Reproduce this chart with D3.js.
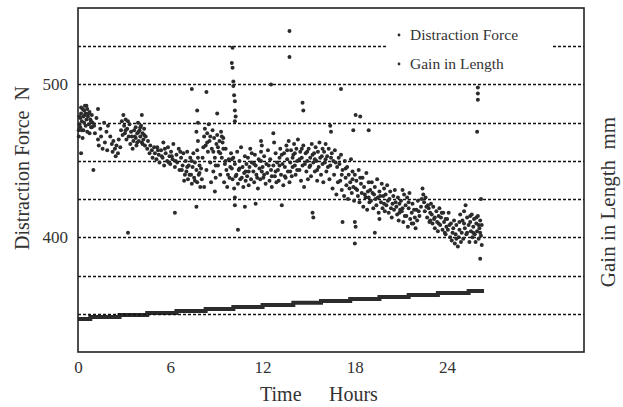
<!DOCTYPE html>
<html>
<head>
<meta charset="utf-8">
<script src="https://cdn.jsdelivr.net/npm/d3@7"></script>
<style>
  body { margin: 0; background: #fff; }
  text { font-family: "Liberation Serif", "Times New Roman", serif; fill: #333; }
</style>
</head>
<body>
<div id="chart"></div>
<script>
// distraction force readings [hours, N]
var forceEarly = [
  [0.05,470],[0.05,466],[0.1,474],[0.15,478],[0.2,481],[0.25,476],[0.3,484],[0.35,479],[0.4,483],[0.45,486],
  [0.5,481],[0.55,477],[0.6,484],[0.65,479],[0.7,474],[0.75,482],[0.8,477],[0.85,472],[0.9,480],[0.95,475],
  [0.15,472],[0.35,470],[0.6,469],[0.85,476],[0.3,465],
  [1.05,473],[1.1,468],[1.2,478],[1.3,464],[1.35,460],[1.45,471],[1.5,466],[1.6,458],[1.7,475],[1.75,462],
  [1.85,469],[1.9,457],[1.95,473],
  [2.1,466],[2.2,461],[2.25,456],[2.3,463],[2.4,458],[2.45,453],[2.5,460],[2.6,455],[2.65,464],[2.75,459],
  [2.8,470],[2.85,476],[2.9,467],[2.95,480],
  [3.0,473],[3.05,468],[3.1,477],[3.15,464],[3.2,471],[3.3,466],[3.35,474],[3.4,461],[3.45,469],[3.55,458],
  [3.6,463],[3.7,466],[3.75,472],[3.8,460],[3.85,468],[3.9,475],[3.95,463],
  [4.0,470],[4.05,466],[4.1,473],[4.15,462],[4.2,468],[4.25,464],[4.3,471],[4.35,460],[4.4,466],[4.5,458],
  [4.55,463],[4.65,455],[4.7,460],[4.8,457],[4.85,452],[4.95,459],
  [5.0,455],[5.1,451],[5.15,459],[5.25,454],[5.3,449],[5.4,457],[5.5,452],[5.55,462],[5.6,447],[5.7,455],
  [5.8,450],[5.85,459],[5.95,453],
  [6.0,448],[6.05,456],[6.15,451],[6.2,461],[6.3,446],[6.4,454],[6.45,449],[6.55,458],[6.6,444],[6.7,452],
  [6.8,447],[6.85,455],[6.95,441],[6.9,437],
  [7.0,450],[7.05,443],[7.1,456],[7.15,438],[7.2,447],[7.3,452],[7.35,441],[7.4,435],[7.45,446],[7.5,455],
  [7.55,439],[7.6,449],[7.7,444],[7.75,436],[7.8,452],[7.85,441],[7.9,447],[7.95,433],
  [7.75,483],[7.8,475],[7.7,469],[7.8,463],[7.75,457],
  [8.0,445],[8.05,438],[8.1,452],[8.2,466],[8.25,471],[8.3,460],[8.35,444],[8.4,468],[8.45,456],[8.5,474],
  [8.55,463],[8.6,449],[8.65,436],[8.7,458],[8.75,470],[8.8,443],[8.85,465],[8.9,452],[8.95,439]
];

var forceMid = [
  [9.0,461],[9.05,467],[9.1,447],[9.15,456],[9.2,463],[9.25,441],[9.3,469],[9.35,452],[9.4,462],[9.45,465],
  [9.5,436],[9.55,448],[9.6,458],[9.65,444],[9.7,433],[9.8,451],[9.85,439],[9.9,446],[9.95,455],
  [10.0,445],[10.05,438],[10.1,452],[10.15,432],[10.2,448],[10.3,441],[10.35,456],[10.4,435],[10.45,444],
  [10.5,450],[10.55,438],[10.6,459],[10.7,446],[10.75,433],[10.8,442],[10.85,453],[10.9,437],[10.95,448],
  [11.0,440],[11.05,452],[11.1,434],[11.15,446],[11.2,458],[11.25,438],[11.3,449],[11.4,443],[11.45,436],
  [11.5,454],[11.55,447],[11.6,441],[11.7,432],[11.75,451],[11.8,445],[11.85,438],[11.9,456],[11.95,443],
  [11.9,463],[11.95,460],
  [12.0,446],[12.05,439],[12.1,453],[12.2,435],[12.25,448],[12.3,442],[12.35,457],[12.45,437],[12.5,451],
  [12.55,444],[12.6,433],[12.7,447],[12.7,468],[12.75,462],[12.8,440],[12.85,455],[12.9,436],[12.95,449],
  [13.0,444],[13.05,437],[13.1,452],[13.15,458],[13.2,441],[13.3,448],[13.35,434],[13.4,455],[13.45,446],
  [13.5,439],[13.55,460],[13.6,451],[13.65,443],[13.7,463],[13.75,436],[13.8,449],[13.85,457],[13.9,440],[13.95,446],
  [14.0,454],[14.05,461],[14.1,447],[14.15,441],[14.2,458],[14.25,450],[14.3,464],[14.4,444],[14.45,456],
  [14.5,437],[14.55,452],[14.6,447],[14.65,460],[14.7,433],[14.8,455],[14.85,443],[14.9,450],[14.95,438],
  [15.0,458],[15.05,446],[15.1,452],[15.15,440],[15.2,461],[15.3,449],[15.35,455],[15.4,443],[15.45,459],
  [15.5,450],[15.55,437],[15.6,456],[15.65,446],[15.7,462],[15.8,441],[15.85,453],[15.9,448],[15.95,436],
  [16.0,456],[16.05,449],[16.1,461],[16.15,443],[16.2,453],[16.3,458],[16.35,438],[16.4,447],[16.5,455],
  [16.55,432],[16.6,450],[16.65,441],[16.7,457],[16.8,428],[16.85,446],[16.9,436],[16.95,452],
  [17.0,448],[17.05,437],[17.1,454],[17.15,431],[17.2,444],[17.3,427],[17.35,450],[17.4,439],[17.45,434],
  [17.5,446],[17.55,425],[17.6,441],[17.7,436],[17.75,451],[17.8,429],[17.85,443],[17.9,433],[17.95,424]
];

var forceLate = [
  [18.0,441],[18.05,432],[18.1,437],[18.2,427],[18.25,444],[18.3,423],[18.4,435],[18.45,429],[18.5,439],
  [18.55,420],[18.6,433],[18.7,426],[18.75,442],[18.8,418],[18.85,430],[18.9,436],[18.95,423],
  [19.0,431],[19.05,424],[19.1,436],[19.2,419],[19.25,428],[19.3,433],[19.4,421],[19.45,438],[19.5,426],
  [19.55,416],[19.6,430],[19.7,423],[19.75,435],[19.8,419],[19.85,427],[19.9,432],[19.95,417],
  [20.0,428],[20.05,421],[20.1,434],[20.2,416],[20.25,425],[20.3,430],[20.4,413],[20.45,422],[20.5,427],
  [20.55,418],[20.6,431],[20.7,420],[20.75,415],[20.8,426],[20.85,411],[20.9,422],[20.95,418],
  [21.0,424],[21.05,417],[21.1,431],[21.15,410],[21.2,428],[21.3,421],[21.35,414],[21.4,426],[21.45,407],
  [21.5,419],[21.55,429],[21.6,412],[21.7,416],[21.75,422],[21.8,409],[21.85,418],[21.9,413],[21.95,406],
  [22.0,418],[22.05,411],[22.1,424],[22.2,414],[22.3,420],[22.4,432],[22.45,428],[22.5,423],[22.55,417],
  [22.6,426],[22.7,413],[22.75,421],[22.8,419],[22.85,410],[22.9,416],[22.95,422],
  [23.0,415],[23.05,409],[23.1,420],[23.15,412],[23.2,406],[23.3,417],[23.35,410],[23.4,404],[23.45,414],
  [23.5,419],[23.55,408],[23.6,413],[23.7,405],[23.75,416],[23.8,410],[23.85,403],[23.9,412],[23.95,407],
  [24.0,412],[24.05,405],[24.1,416],[24.2,400],[24.25,409],[24.3,398],[24.4,406],[24.45,411],[24.5,396],
  [24.55,402],[24.6,408],[24.7,394],[24.75,400],[24.8,405],[24.85,415],[24.9,397],[24.95,403],
  [25.0,411],[25.05,399],[25.1,417],[25.15,406],[25.2,421],[25.25,402],[25.3,413],[25.4,408],[25.45,397],
  [25.5,410],[25.55,404],[25.6,415],[25.65,400],[25.7,407],[25.75,412],[25.8,402],[25.85,397],[25.9,409],
  [25.95,404],[26.0,414],[26.05,399],[26.1,406],[26.15,411],[26.2,401],[26.25,395]
];

// extra readings inside the darkest clusters
var forceDense = [
  [0.1,479],[0.2,485],[0.25,470],[0.4,475],[0.45,480],[0.5,473],[0.55,486],[0.7,481],[0.75,468],[0.9,472],
  [3.1,470],[3.25,476],[3.5,466],[3.65,470],[3.75,465],[3.85,462],[3.95,469],[4.05,472],[4.2,461],[4.3,467],
  [5.2,457],[5.45,453],[5.65,458],[5.9,449],[6.1,453],[6.35,450],[6.65,456],[6.75,444],
  [7.1,446],[7.25,441],[7.4,450],[7.6,437],[7.9,442],[8.15,459],[8.4,462],[8.6,466],[8.8,456],[8.95,447],
  [9.1,459],[9.25,455],[9.35,466],[9.45,458],[9.6,450],[9.75,441],[10.0,451],[10.25,440],[10.5,445],
  [10.65,439],[10.9,443],
  [11.1,443],[11.3,455],[11.45,448],[11.65,439],[11.9,450],[12.1,441],[12.4,447],[12.6,440],[12.85,443],
  [13.1,447],[13.25,454],[13.45,440],[13.6,457],[13.8,443],[13.95,452],[14.1,455],[14.25,444],[14.4,451],
  [14.55,458],[14.75,448],[14.9,456],[15.1,447],[15.25,454],[15.4,451],[15.55,444],[15.75,452],[15.9,458],
  [16.1,451],[16.25,446],[16.45,452],[16.75,449],
  [17.15,441],[17.4,445],[17.65,432],[17.85,438],[18.15,431],[18.35,439],[18.65,428],[18.9,426],
  [19.15,429],[19.35,425],[19.65,427],[19.9,422],
  [20.15,424],[20.35,419],[20.65,423],[20.9,416],[21.1,419],[21.25,414],[21.5,423],[21.7,409],
  [22.15,417],[22.35,425],[22.65,420],[22.9,411],[23.2,413],[23.45,409],[23.65,416],[23.9,402],
  [24.15,408],[24.35,403],[24.6,399],[24.8,410],[25.1,409],[25.3,403],[25.5,414],[25.7,403],
  [25.9,413],[26.05,408],[26.15,403],[26.25,408]
];

var forceOutliers = [
  [10.05,524],[10.0,514],[10.05,511],[10.1,502],[10.1,499],[10.15,493],[10.2,489],[10.2,483],[10.25,479],[10.2,476],
  [13.75,535],[13.75,518],
  [7.4,497],[8.35,495],[12.55,500],[17.1,497],[26.0,498],[26.0,494],[26.0,490],
  [1.3,484],[4.15,480],[9.05,481],[14.6,488],[14.65,483],[16.4,473],[16.45,469],[17.9,470],[18.05,480],
  [18.35,479],[18.9,470],[25.95,469],
  [0.2,455],[1.0,444],[3.25,403],[6.3,416],[7.7,420],[8.2,433],[8.9,430],[10.2,426],[10.2,421],[10.4,405],
  [10.85,420],[11.55,422],[13.25,421],[15.25,416],[15.3,413],[17.2,410],[18.0,410],[18.05,407],[18.0,396],
  [19.3,403],[19.6,412],[26.2,425],[26.15,386]
];

// gain in length [hours, mm], step series
var gainSteps = [
  [0,0],[0.8,0.08],[2.7,0.15],[4.5,0.23],[6.4,0.31],[8.3,0.38],[10.1,0.46],[12.0,0.54],
  [14.0,0.62],[15.8,0.69],[17.7,0.77],[19.6,0.85],[21.5,0.92],[23.4,1.0],[25.4,1.08],[26.4,1.08]
];

var xTicks = [0, 6, 12, 18, 24];
var yTicks = [400, 500];
var gridLevels = [350, 375, 400, 425, 450, 475, 500, 525];
var legendLabels = ['Distraction Force', 'Gain in Length'];

var margin = { top: 8, right: 39, bottom: 55, left: 78 },
  frame = { width: 623, height: 407 },
  width = frame.width - margin.left - margin.right,
  height = frame.height - margin.top - margin.bottom,
  ink = '#2b2b2b';

var x = d3.scaleLinear().domain([0, 32.9]).range([0, width]);
var y = d3.scaleLinear().domain([325, 550]).range([height, 0]);
var yGain = d3.scaleLinear().domain([-1.27, 11.96]).range([height, 0]);

var root = d3.select('#chart').append('svg')
  .attr('width', frame.width)
  .attr('height', frame.height);

var svg = root.append('g')
  .attr('transform', 'translate(' + margin.left + ',' + margin.top + ')');

// gain in length step line
var gainLine = d3.line()
  .curve(d3.curveStepAfter)
  .x(function (d) { return x(d[0]); })
  .y(function (d) { return yGain(d[1]); });

svg.append('path')
  .datum(gainSteps)
  .attr('d', gainLine)
  .attr('fill', 'none')
  .attr('stroke', ink)
  .attr('stroke-width', 4);

// dashed grid
svg.selectAll('.grid')
  .data(gridLevels)
  .enter().append('line')
  .attr('class', 'grid')
  .attr('x1', 0)
  .attr('x2', width)
  .attr('y1', function (d) { return Math.round(y(d)) + 0.5; })
  .attr('y2', function (d) { return Math.round(y(d)) + 0.5; })
  .attr('stroke', '#111')
  .attr('stroke-width', 1.5)
  .attr('stroke-dasharray', '3,2');

// force dots
var allForce = forceEarly.concat(forceMid, forceLate, forceDense, forceOutliers);
svg.selectAll('.dot')
  .data(allForce)
  .enter().append('circle')
  .attr('class', 'dot')
  .attr('cx', function (d) { return x(d[0]); })
  .attr('cy', function (d) { return y(d[1]); })
  .attr('r', 2)
  .attr('fill', ink);

// legend, knocks out the top grid line
svg.append('rect')
  .attr('x', 308)
  .attr('y', 14)
  .attr('width', 167)
  .attr('height', 54)
  .attr('fill', '#fff');

var legendRow = svg.selectAll('.legend')
  .data(legendLabels)
  .enter().append('g')
  .attr('class', 'legend')
  .attr('transform', function (d, i) { return 'translate(321,' + (27 + i * 29) + ')'; });

legendRow.append('circle')
  .attr('r', 1.4)
  .attr('fill', ink);

legendRow.append('text')
  .attr('x', 11)
  .attr('dy', '.35em')
  .style('font-size', '15.5px')
  .text(function (d) { return d; });

// frame
svg.append('rect')
  .attr('width', width)
  .attr('height', height)
  .attr('fill', 'none')
  .attr('stroke', '#222')
  .attr('stroke-width', 1.6);

// axes
var xAxis = svg.append('g')
  .attr('transform', 'translate(0,' + height + ')')
  .call(d3.axisBottom(x).tickValues(xTicks).tickSize(0).tickPadding(9));
xAxis.select('.domain').remove();
xAxis.selectAll('text')
  .style('font-size', '17px')
  .style('font-family', '"Liberation Serif", serif')
  .attr('fill', '#333');

var yAxis = svg.append('g')
  .call(d3.axisLeft(y).tickValues(yTicks).tickSize(0).tickPadding(10));
yAxis.select('.domain').remove();
yAxis.selectAll('text')
  .style('font-size', '17px')
  .style('font-family', '"Liberation Serif", serif')
  .attr('fill', '#333');

// axis titles
root.append('text')
  .attr('transform', 'translate(29,168) rotate(-90)')
  .style('text-anchor', 'middle')
  .style('font-size', '20px')
  .style('white-space', 'pre')
  .text('Distraction Force  N');

root.append('text')
  .attr('transform', 'translate(615,202) rotate(-90)')
  .style('text-anchor', 'middle')
  .style('font-size', '21px')
  .style('white-space', 'pre')
  .text('Gain in Length  mm');

root.append('text')
  .attr('x', 260)
  .attr('y', 401)
  .style('font-size', '20px')
  .text('Time');

root.append('text')
  .attr('x', 329)
  .attr('y', 401)
  .style('font-size', '20px')
  .text('Hours');
</script>
</body>
</html>
